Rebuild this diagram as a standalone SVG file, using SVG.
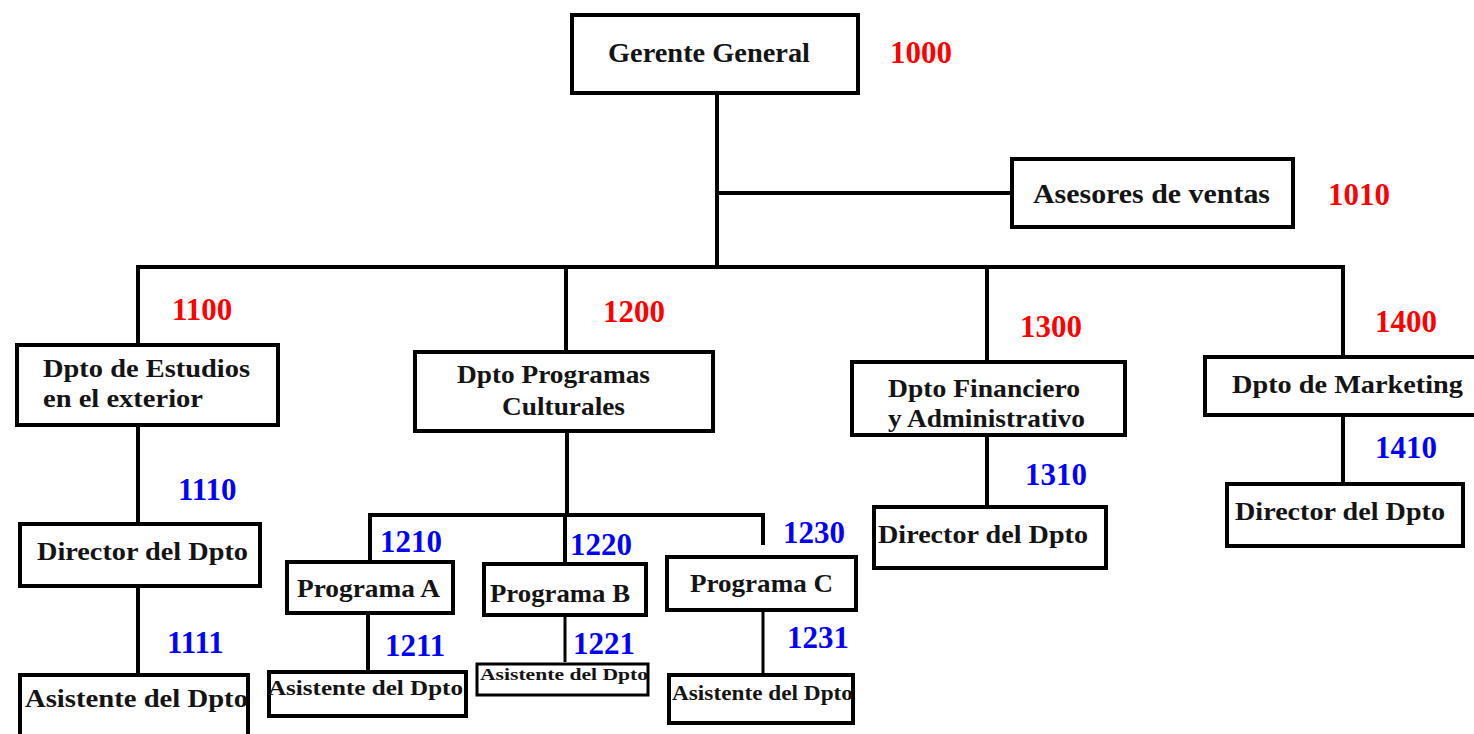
<svg xmlns="http://www.w3.org/2000/svg" width="1474" height="734" viewBox="0 0 1474 734">
<style>
.box{fill:#fff;stroke:#000;stroke-width:4}
.box3{fill:#fff;stroke:#000;stroke-width:3}
.t{font-family:"Liberation Serif","Times New Roman",serif;font-weight:bold;fill:#141414}
.r{font-family:"Liberation Serif","Times New Roman",serif;font-weight:bold;font-size:31px;fill:#ff0000}
.b{font-family:"Liberation Serif","Times New Roman",serif;font-weight:bold;font-size:31px;fill:#0000ff}
.c{fill:none;stroke:#000;stroke-width:4}
.c3{fill:none;stroke:#000;stroke-width:3}
</style>
<rect width="1474" height="734" fill="#fff"/>
<g id="connectors">
<path class="c" d="M717,95 V267"/>
<path class="c" d="M717,193 H1010"/>
<path class="c" d="M138,343 V267 H1343 V355"/>
<path class="c" d="M566,267 V350"/>
<path class="c" d="M987,267 V360"/>
<path class="c" d="M138,427 V522"/>
<path class="c" d="M138,588 V673"/>
<path class="c" d="M567,433 V515"/>
<path class="c" d="M370,560 V515 H763 V545"/>
<path class="c" d="M565,515 V562"/>
<path class="c" d="M368,615 V670"/>
<path class="c3" d="M565,617 V662"/>
<path class="c3" d="M763,612 V673"/>
<path class="c" d="M987,437 V505"/>
<path class="c" d="M1343,417 V482"/>
</g>
<g id="n1000">
<rect class="box" x="572" y="15" width="286" height="78"/>
<text class="t" x="608" y="62" font-size="27" textLength="202" lengthAdjust="spacingAndGlyphs">Gerente General</text>
<text class="r" x="890" y="63">1000</text>
</g>
<g id="n1010">
<rect class="box" x="1012" y="159" width="281" height="68"/>
<text class="t" x="1033" y="203" font-size="27" textLength="237" lengthAdjust="spacingAndGlyphs">Asesores de ventas</text>
<text class="r" x="1328" y="205">1010</text>
</g>
<g id="n1100">
<rect class="box" x="17" y="345" width="261" height="80"/>
<text class="t" x="43" y="377" font-size="26" textLength="207" lengthAdjust="spacingAndGlyphs">Dpto de Estudios</text>
<text class="t" x="43" y="407" font-size="26" textLength="160" lengthAdjust="spacingAndGlyphs">en el exterior</text>
<text class="r" x="172" y="320">1100</text>
</g>
<g id="n1200">
<rect class="box" x="415" y="352" width="298" height="79"/>
<text class="t" x="457" y="383" font-size="26" textLength="193" lengthAdjust="spacingAndGlyphs">Dpto Programas</text>
<text class="t" x="502" y="415" font-size="26" textLength="123" lengthAdjust="spacingAndGlyphs">Culturales</text>
<text class="r" x="603" y="322">1200</text>
</g>
<g id="n1300">
<rect class="box" x="852" y="362" width="273" height="73"/>
<text class="t" x="888" y="397" font-size="26" textLength="192" lengthAdjust="spacingAndGlyphs">Dpto Financiero</text>
<text class="t" x="888" y="427" font-size="26" textLength="197" lengthAdjust="spacingAndGlyphs">y Administrativo</text>
<text class="r" x="1020" y="337">1300</text>
</g>
<g id="n1400">
<rect class="box" x="1205" y="357" width="275" height="58"/>
<text class="t" x="1232" y="393" font-size="26" textLength="231" lengthAdjust="spacingAndGlyphs">Dpto de Marketing</text>
<text class="r" x="1375" y="332">1400</text>
</g>
<g id="n1110">
<rect class="box" x="20" y="524" width="240" height="62"/>
<text class="t" x="37" y="560" font-size="26" textLength="211" lengthAdjust="spacingAndGlyphs">Director del Dpto</text>
<text class="b" x="178" y="500">1110</text>
</g>
<g id="n1111">
<rect class="box" x="20" y="675" width="228" height="70"/>
<text class="t" x="25" y="707" font-size="26" textLength="223" lengthAdjust="spacingAndGlyphs">Asistente del Dpto</text>
<text class="b" x="167" y="653">1111</text>
</g>
<g id="n1210">
<rect class="box" x="287" y="562" width="166" height="51"/>
<text class="t" x="297" y="597" font-size="26" textLength="143" lengthAdjust="spacingAndGlyphs">Programa A</text>
<text class="b" x="380" y="552">1210</text>
</g>
<g id="n1220">
<rect class="box" x="484" y="564" width="162" height="51"/>
<text class="t" x="490" y="602" font-size="26" textLength="140" lengthAdjust="spacingAndGlyphs">Programa B</text>
<text class="b" x="570" y="555">1220</text>
</g>
<g id="n1230">
<rect class="box" x="667" y="557" width="189" height="53"/>
<text class="t" x="690" y="592" font-size="26" textLength="143" lengthAdjust="spacingAndGlyphs">Programa C</text>
<text class="b" x="783" y="543">1230</text>
</g>
<g id="n1211">
<rect class="box" x="269" y="672" width="197" height="44"/>
<text class="t" x="268" y="695" font-size="21" textLength="195" lengthAdjust="spacingAndGlyphs">Asistente del Dpto</text>
<text class="b" x="385" y="656">1211</text>
</g>
<g id="n1221">
<rect class="box3" x="477" y="664" width="171" height="31"/>
<text class="t" x="480" y="680" font-size="16" textLength="168" lengthAdjust="spacingAndGlyphs">Asistente del Dpto</text>
<text class="b" x="573" y="654">1221</text>
</g>
<g id="n1231">
<rect class="box" x="669" y="675" width="184" height="48"/>
<text class="t" x="672" y="700" font-size="21" textLength="181" lengthAdjust="spacingAndGlyphs">Asistente del Dpto</text>
<text class="b" x="787" y="648">1231</text>
</g>
<g id="n1310">
<rect class="box" x="874" y="507" width="232" height="61"/>
<text class="t" x="878" y="543" font-size="26" textLength="210" lengthAdjust="spacingAndGlyphs">Director del Dpto</text>
<text class="b" x="1025" y="485">1310</text>
</g>
<g id="n1410">
<rect class="box" x="1227" y="484" width="236" height="62"/>
<text class="t" x="1235" y="520" font-size="26" textLength="210" lengthAdjust="spacingAndGlyphs">Director del Dpto</text>
<text class="b" x="1375" y="458">1410</text>
</g>
</svg>
